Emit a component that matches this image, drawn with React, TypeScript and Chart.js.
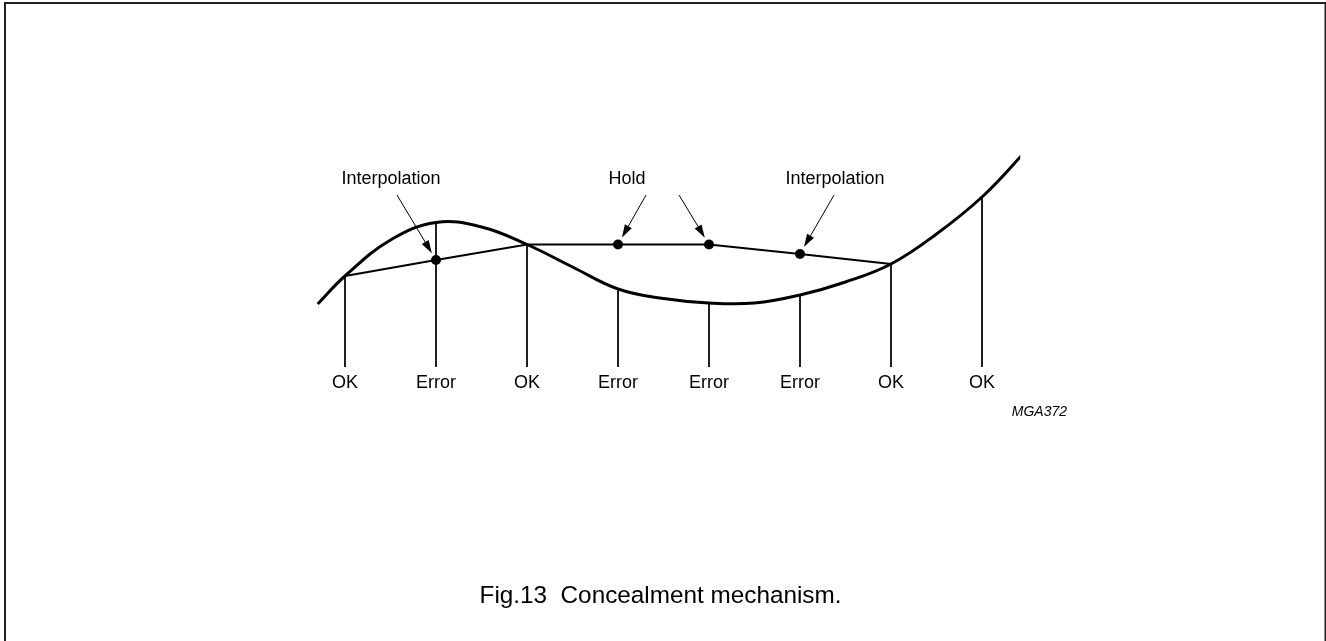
import React, { useEffect, useRef } from "react";
import { Chart, registerables } from "chart.js";

Chart.register(...registerables);

// Sample instants (sample index) and status of each received sample
const SAMPLE_T = [0, 1, 2, 3, 4, 5, 6, 7];
const SAMPLE_STATUS = ["OK", "Error", "OK", "Error", "Error", "Error", "OK", "OK"];
// Original signal amplitude at each sample instant
const SIGNAL_AT_SAMPLES = [9.1, 14.45, 12.25, 7.8, 6.4, 7.2, 10.3, 17.0];

// Original (continuous) signal (drawn up to t = 7.42)
const CURVE_T = [-0.3, 0, 0.5, 1, 1.5, 2, 2.5, 3, 3.5, 4, 4.5, 5, 5.5, 6, 6.5, 7, 7.42, 7.8];
const CURVE_V = [6.3, 9.1, 12.7, 14.45, 14.0, 12.25, 10.0, 7.8, 6.85, 6.4, 6.4, 7.2, 8.5, 10.3, 13.3, 17.0, 21.0, 25.0];
const CURVE_END_T = 7.42;

// Concealed output (hold / interpolation) for samples 0..6
const CONCEALED_T = [0, 1, 2, 3, 4, 5, 6];
const CONCEALED_V = [9.1, 10.7, 12.25, 12.25, 12.25, 11.3, 10.3];

// Concealed samples marked with dots
const DOT_T = [1, 3, 4, 5];
const DOT_V = [10.7, 12.25, 12.25, 11.3];

// Callout labels
const CALLOUT_TEXT = ["Interpolation", "Hold", "Interpolation"];
const CALLOUT_T = [0.505, 3.1, 5.385];
const CALLOUT_V = 18.8;
// Arrow tails (data units) pointing to dot index
const ARROW_TAIL_T = [0.571, 3.308, 3.67, 5.374];
const ARROW_TAIL_V = 17.2;
const ARROW_DOT = [0, 1, 2, 3];

const FIG_ID = "MGA372";
const CAPTION = "Fig.13  Concealment mechanism.";

const FONT = '"Liberation Sans", Arial, Helvetica, sans-serif';

const X_MIN = -0.5;
const X_MAX = 8;
const PX_PER_T = 91;

function buildSticks() {
  const pts: any[] = [];
  SAMPLE_T.forEach((t, i) => {
    pts.push({ x: t, y: SIGNAL_AT_SAMPLES[i] });
    pts.push({ x: t, y: 0 });
    pts.push({ x: t, y: null });
  });
  return pts;
}

const annotPlugin = {
  id: "annot",
  afterDraw(chart: any) {
    const ctx = chart.ctx as CanvasRenderingContext2D;
    const xs = chart.scales.x;
    const ys = chart.scales.y;
    const px = (t: number) => xs.getPixelForValue(t);
    const py = (v: number) => ys.getPixelForValue(v);
    ctx.save();

    // frame
    ctx.strokeStyle = "#222";
    ctx.lineWidth = 2;
    ctx.strokeRect(5, 3, chart.width - 5.5, chart.height + 2);

    ctx.fillStyle = "#000";
    ctx.textBaseline = "middle";
    ctx.textAlign = "center";

    // status labels
    ctx.font = `18px ${FONT}`;
    SAMPLE_T.forEach((t, i) => {
      ctx.fillText(SAMPLE_STATUS[i], px(t), py(0) + 16);
    });

    // callout labels
    CALLOUT_TEXT.forEach((s, i) => {
      ctx.fillText(s, px(CALLOUT_T[i]), py(CALLOUT_V));
    });

    // arrows
    ctx.strokeStyle = "#000";
    ctx.lineWidth = 1;
    ARROW_TAIL_T.forEach((t, i) => {
      const d = ARROW_DOT[i];
      const x0 = px(t), y0 = py(ARROW_TAIL_V);
      const dx = px(DOT_T[d]), dy = py(DOT_V[d]);
      const len = Math.hypot(dx - x0, dy - y0);
      const ux = (dx - x0) / len, uy = (dy - y0) / len;
      const tipX = dx - ux * 8, tipY = dy - uy * 8;
      const headL = 13, headW = 4;
      const bx = tipX - ux * headL, by = tipY - uy * headL;
      ctx.beginPath();
      ctx.moveTo(x0, y0);
      ctx.lineTo(bx, by);
      ctx.stroke();
      ctx.beginPath();
      ctx.moveTo(tipX, tipY);
      ctx.lineTo(bx - uy * headW, by + ux * headW);
      ctx.lineTo(bx + uy * headW, by - ux * headW);
      ctx.closePath();
      ctx.fill();
    });

    // figure id
    ctx.font = `italic 14px ${FONT}`;
    ctx.textAlign = "right";
    ctx.fillText(FIG_ID, px(7.934), py(-4.5));

    // caption
    ctx.font = `24.3px ${FONT}`;
    ctx.textAlign = "center";
    ctx.fillText(CAPTION, 660.5, 596);

    ctx.restore();
  },
};

export default function App() {
  const ref = useRef<HTMLCanvasElement | null>(null);
  useEffect(() => {
    if (!ref.current) return;
    const leftPad = 345 - (0 - X_MIN) * PX_PER_T;
    const rightPad = 1326 - (345 + X_MAX * PX_PER_T);
    const curveClipRight = -(X_MAX - CURVE_END_T) * PX_PER_T;
    const chart = new Chart(ref.current, {
      type: "scatter",
      data: {
        datasets: [
          {
            label: "sticks",
            data: buildSticks(),
            showLine: true,
            borderColor: "#000",
            borderWidth: 1,
            pointRadius: 0,
            spanGaps: false,
            clip: false,
          } as any,
          {
            label: "signal",
            data: CURVE_T.map((t, i) => ({ x: t, y: CURVE_V[i] })),
            showLine: true,
            borderColor: "#000",
            borderWidth: 3,
            pointRadius: 0,
            tension: 0.4,
            clip: { left: false, top: false, bottom: false, right: curveClipRight },
          } as any,
          {
            label: "concealed",
            data: CONCEALED_T.map((t, i) => ({ x: t, y: CONCEALED_V[i] })),
            showLine: true,
            borderColor: "#000",
            borderWidth: 2,
            pointRadius: 0,
            tension: 0,
            clip: false,
          } as any,
          {
            label: "dots",
            data: DOT_T.map((t, i) => ({ x: t, y: DOT_V[i] })),
            showLine: false,
            pointRadius: 5,
            pointBackgroundColor: "#000",
            pointBorderColor: "#000",
            pointBorderWidth: 0,
            clip: false,
          } as any,
        ],
      },
      options: {
        animation: false,
        responsive: false,
        devicePixelRatio: 1,
        events: [],
        layout: { padding: { left: leftPad, right: rightPad, top: 147, bottom: 274 } },
        plugins: { legend: { display: false }, tooltip: { enabled: false }, title: { display: false } },
        scales: {
          x: { type: "linear", min: X_MIN, max: X_MAX, display: false },
          y: { type: "linear", min: 0, max: 22, display: false },
        },
      },
      plugins: [annotPlugin],
    });
    return () => chart.destroy();
  }, []);
  return (
    <div style={{ position: "fixed", left: 0, top: 0, width: 1326, height: 641, background: "#fff" }}>
      <canvas ref={ref} width={1326} height={641} style={{ display: "block" }} />
    </div>
  );
}
